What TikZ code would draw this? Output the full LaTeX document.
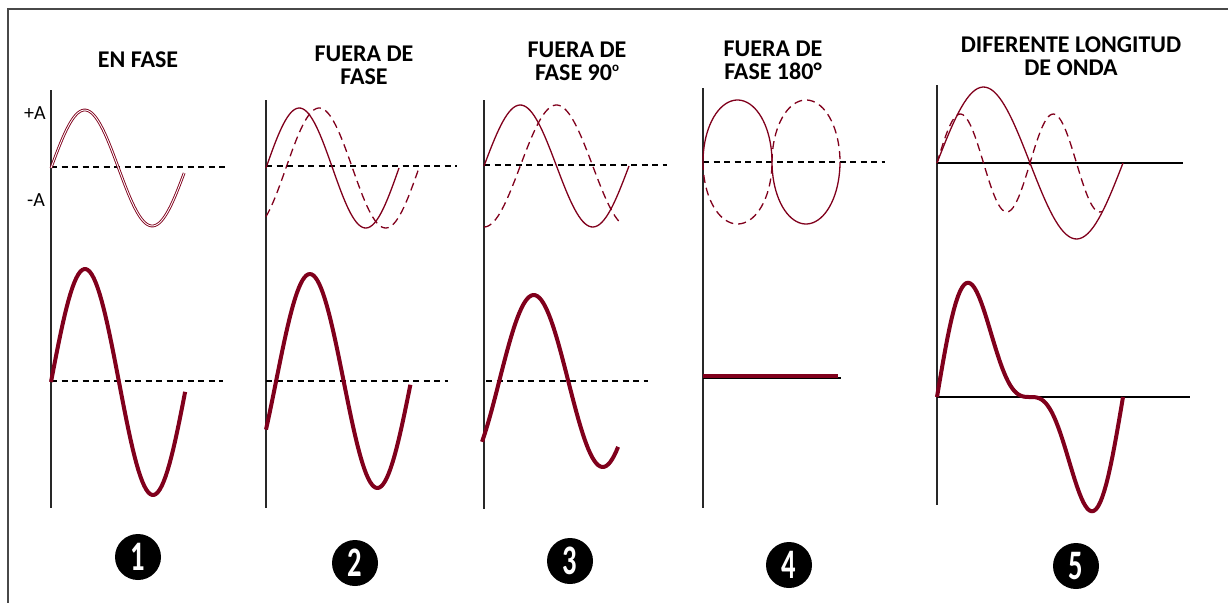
\documentclass[tikz,border=0pt]{standalone}
\usepackage{fontspec}
\setmainfont{Carlito}
\usetikzlibrary{positioning}
\definecolor{ink}{RGB}{40,40,40}
\definecolor{wine}{RGB}{128,0,28}
\newcommand{\supo}{\raisebox{9pt}{\fontsize{13}{13}\selectfont o}}
\tikzset{
  frame/.style={draw=ink!85,line width=1.5pt},
  yaxis/.style={draw=ink,line width=1.3pt},
  zero/.style={draw=black,line width=1.2pt,dash pattern=on 6pt off 4.5pt},
  base/.style={draw=black,line width=1.3pt},
  wave/.style={draw=wine,line width=1.3pt},
  twin/.style={draw=wine,line width=0.9pt,double=white,double distance=0.9pt},
  ghost/.style={wave,dash pattern=on 8pt off 5pt},
  sumwave/.style={draw=wine,line width=4pt,line join=round},
  ttl/.style={font=\fontsize{24}{23}\selectfont\bfseries,align=center,inner sep=0pt},
  amp/.style={font=\fontsize{20}{22}\selectfont,inner sep=0pt},
  badge/.style={circle,fill=black,text=white,inner sep=0pt,minimum size=46pt,
    font=\fontsize{42}{42}\selectfont\bfseries},
}
\begin{document}
\begin{tikzpicture}[x=1pt,y=-1pt]
\useasboundingbox (0,0) rectangle (1228,603);
\draw[frame] (1228,9) -- (8,9) -- (8,603);

% titles
\node[ttl] (t1) at (138,60) {EN FASE};
\node[ttl] (t2) at (364,65) {FUERA DE\\FASE};
\node[ttl] (t3) at (577,61) {FUERA DE\\FASE 90\supo};
\node[ttl] (t4) at (773,60) {FUERA DE\\FASE 180°};
\node[ttl] (t5) at (1071,56) {DIFERENTE LONGITUD\\DE ONDA};
\node[amp] (pa) at (35,113) {+A};
\node[amp] (na) at (36,200) {-A};

% axes
\draw[yaxis] (51,90) -- (51,508);
\draw[yaxis] (266,100) -- (266,508);
\draw[yaxis] (484,100) -- (484,509);
\draw[yaxis] (703,88) -- (703,508);
\draw[yaxis] (937,85) -- (937,505);

% zero lines
\draw[zero] (51,167) -- (228,167);
\draw[zero] (51,381) -- (223,381);
\draw[zero] (266,166) -- (457,166);
\draw[zero] (266,381) -- (448,381);
\draw[zero] (484,165) -- (667,165);
\draw[zero] (486,381) -- (648,381);
\draw[zero] (703,162) -- (885,162);
\draw[base] (937,163) -- (1183,163);
\draw[base] (937,397) -- (1190,397);
\draw[base] (703,378) -- (841,378);

% 1: en fase
\draw[twin] plot[domain=0:355,samples=70] ({51+\x/360*135},{168-58*sin(\x)});
\draw[sumwave] plot[domain=0:355,samples=70] ({51+\x/360*136},{382-113*sin(\x)});

% 2: fuera de fase
\draw[wave] plot[domain=0:360,samples=70] ({266+\x/360*133},{168-60*sin(\x)});
\draw[ghost] plot[domain=0:414,samples=80] ({266+\x/360*133},{168-60*sin(\x-54)});
\draw[sumwave] plot[domain=0:385,samples=80] ({266+\x/360*135},{381-107*sin(\x-27)});

% 3: fuera de fase 90
\draw[wave] plot[domain=0:360,samples=70] ({484+\x/360*145},{166-61*sin(\x)});
\draw[ghost] plot[domain=0:340,samples=70] ({484+\x/360*145},{166+61*cos(\x)});
\draw[sumwave] plot[domain=0:355,samples=70] ({482+\x/360*138},{381-86*sin(\x-45)});

% 4: fuera de fase 180
\draw[wave] plot[domain=0:180,samples=40] ({737.5-34.5*cos(\x)},{162-62*sin(\x)})
  -- plot[domain=0:180,samples=40] ({806-34*cos(\x)},{162+62*sin(\x)});
\draw[ghost] plot[domain=0:180,samples=40] ({737.5-34.5*cos(\x)},{162+62*sin(\x)});
\draw[ghost] plot[domain=0:180,samples=40] ({806-34*cos(\x)},{162-62*sin(\x)});
\draw[sumwave] (703,376) -- (838,376);

% 5: diferente longitud de onda
\draw[wave] plot[domain=0:360,samples=70] ({937+\x/360*186},{163-76*sin(\x)});
\draw[ghost] plot[domain=0:319,samples=90] ({937+\x/360*186},{163-49*sin(2*\x)});
\draw[sumwave] plot[domain=0:360,samples=90] ({937+\x/360*186},{397-88*sin(\x)-44*sin(2*\x)});

\foreach \n/\px/\py in {1/138/557,2/355/563,3/570/561,4/789/565,5/1076/566}
  \node[badge] (b\n) at (\px,\py) {\scalebox{0.68}[1]{\n}};
\end{tikzpicture}
\end{document}
